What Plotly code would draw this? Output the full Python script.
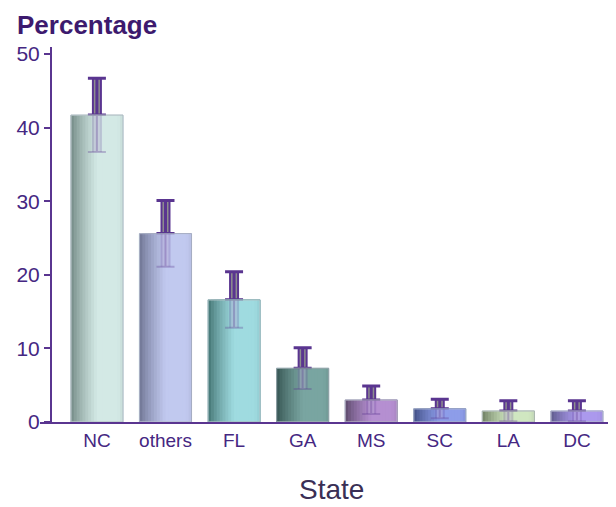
import plotly.graph_objects as go

# data
states = ["NC", "others", "FL", "GA", "MS", "SC", "LA", "DC"]
percent = [41.7, 25.6, 16.6, 7.3, 3.0, 1.8, 1.5, 1.5]
err = [5.0, 4.5, 3.8, 2.8, 1.9, 1.3, 1.4, 1.4]
y_ticks = [0, 10, 20, 30, 40, 50]

# bar shading: (dark left edge, light body) per state
light = ["#d3e9e5", "#c1c9ef", "#9fdbe0", "#79a5a1", "#b58fd1", "#8d9de9", "#d0e7c1", "#ab99ed"]
dark = ["#6f8682", "#6c7290", "#3f706e", "#34524f", "#5a4868", "#3d4b80", "#6c7c60", "#5b5988"]

PURPLE = "#5a3590"
TXT = "#452782"
BW = 0.76
N = 18

# the page puts the figure 8px in from the top-left corner
W, H = 608, 499
L, T, B = 32, 39, 85
PW, PH = W - L, H - T - B


def hex2rgb(h):
    h = h.lstrip("#")
    return [int(h[i:i + 2], 16) for i in (0, 2, 4)]


def mix(c1, c2, t):
    a, b = hex2rgb(c1), hex2rgb(c2)
    return "rgb(%d,%d,%d)" % tuple(a[i] + (b[i] - a[i]) * t for i in range(3))


def shade(t):
    # cylinder-ish profile: dark on the left, light most of the way, slight dip at right
    if t < 0.5:
        return (t / 0.5) ** 0.75
    if t > 0.9:
        return 1 - (t - 0.9) * 1.2
    return 1.0


def err_trace(fig, up, down, color, thickness, width):
    fig.add_trace(go.Bar(x=states, y=percent, width=BW, marker_color="rgba(0,0,0,0)",
                         error_y=dict(type="data", symmetric=False, array=up,
                                      arrayminus=down, color=color,
                                      thickness=thickness, width=width),
                         hoverinfo="skip", showlegend=False))


zeros = [0] * len(err)
fig = go.Figure()

# upper error bars first; the bars go on top of their lower part
err_trace(fig, err, zeros, PURPLE, 10, 0)
err_trace(fig, err, zeros, "#8e8e8e", 6, 0)
err_trace(fig, err, zeros, PURPLE, 3, 9)

# shaded bars: overlapping slices, each one running to the right edge
sw = BW / N
for i in range(N):
    t = (i + 0.5) / N
    cols = [mix(dark[k], light[k], shade(t)) for k in range(len(states))]
    fig.add_trace(go.Bar(x=states, y=percent, width=BW - i * sw, offset=-BW / 2 + i * sw,
                         marker=dict(color=cols, line=dict(width=0)),
                         showlegend=False))

# lower half of the error bar, seen faintly through the bar
err_trace(fig, zeros, err, "rgba(90,53,144,0.22)", 10, 0)
err_trace(fig, zeros, err, "rgba(255,255,255,0.2)", 6, 0)
err_trace(fig, zeros, err, "rgba(90,53,144,0.3)", 2, 9)

# thin outline over each bar
fig.add_trace(go.Bar(x=states, y=percent, width=BW,
                     marker=dict(color="rgba(0,0,0,0)", line=dict(color=dark, width=1)),
                     opacity=0.5, hoverinfo="skip", showlegend=False))

fig.update_layout(
    width=W, height=H,
    barmode="overlay",
    paper_bgcolor="white", plot_bgcolor="white",
    margin=dict(l=L, r=0, t=T, b=B),
    font=dict(family="Liberation Sans, Arial, sans-serif", color=TXT),
    xaxis=dict(range=[-0.83, 7.57], showgrid=False, showline=True, linecolor=PURPLE,
               linewidth=2, ticks="", tickfont=dict(size=19, color=TXT)),
    yaxis=dict(range=[0, 50.95], tickvals=y_ticks, showgrid=False, zeroline=False,
               showline=True, linecolor=PURPLE, linewidth=2, ticks="outside",
               ticklen=6, tickwidth=2, tickcolor=PURPLE, anchor="free",
               position=(43 - L) / PW, tickfont=dict(size=21, color=TXT)),
    annotations=[
        dict(text="<b>Percentage</b>", x=(7 - L) / PW, xanchor="left",
             y=1 + T / PH, yanchor="top", xref="paper", yref="paper",
             showarrow=False, font=dict(size=26, color="#3d1a6e")),
        dict(text="State", x=(323 - L) / PW, y=-(481 - (H - B)) / PH, yanchor="middle",
             xref="paper", yref="paper", showarrow=False,
             font=dict(size=28, color="#3a2f55")),
    ],
)

fig.write_html("out.html")
